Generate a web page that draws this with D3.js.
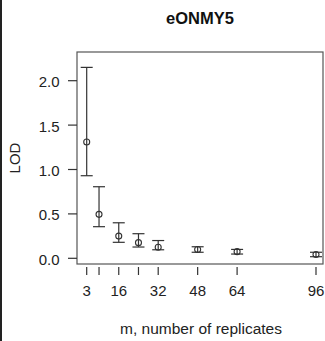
<!DOCTYPE html>
<html>
<head>
<meta charset="utf-8">
<script src="https://cdn.jsdelivr.net/npm/d3@7"></script>
<style>
  body { margin: 0; background: #fff; }
  svg { display: block; font-family: "Liberation Sans", Arial, sans-serif; }
</style>
</head>
<body>
<svg id="chart" width="325" height="341"></svg>
<script>
// replicates (m) and LOD estimates with interval bounds
const reps = [3, 8, 16, 24, 32, 48, 64, 96];
const lod = [1.31, 0.495, 0.25, 0.176, 0.125, 0.099, 0.075, 0.043];
const lodLow = [0.93, 0.356, 0.18, 0.127, 0.096, 0.068, 0.048, 0.018];
const lodHigh = [2.15, 0.806, 0.40, 0.277, 0.20, 0.13, 0.10, 0.068];
const xTicks = [3, 8, 16, 24, 32, 48, 64, 96];
const xLabels = [3, 16, 32, 48, 64, 96];
const yTicks = [0, 0.5, 1.0, 1.5, 2.0];

const svg = d3.select("#chart");
const box = { left: 77, top: 52, right: 323, bottom: 264 };

const x = d3.scaleLinear().domain([3, 96]).range([86.7, 316]);
const y = d3.scaleLinear().domain([0, 2]).range([258.3, 80.7]);

const ink = "#333";
const fs = 15;

// left frame line of the figure
svg.append("rect").attr("x", 0).attr("y", 0).attr("width", 2).attr("height", 341).attr("fill", "#222");

// title
svg.append("text")
  .attr("x", (box.left + box.right) / 2).attr("y", 24)
  .attr("text-anchor", "middle")
  .attr("font-size", 16.5).attr("font-weight", "bold")
  .attr("fill", "#111")
  .text("eONMY5");

// plot box
svg.append("rect")
  .attr("x", box.left).attr("y", box.top)
  .attr("width", box.right - box.left).attr("height", box.bottom - box.top)
  .attr("fill", "none").attr("stroke", "#555").attr("stroke-width", 1.2);

// y axis
const yAxis = svg.append("g");
yAxis.selectAll("line").data(yTicks).enter().append("line")
  .attr("x1", 68).attr("x2", box.left)
  .attr("y1", d => y(d)).attr("y2", d => y(d))
  .attr("stroke", ink).attr("stroke-width", 1.2);
yAxis.selectAll("text").data(yTicks).enter().append("text")
  .attr("x", 59.5).attr("y", d => y(d) + 6.5)
  .attr("text-anchor", "end").attr("font-size", fs).attr("fill", "#222")
  .text(d => d3.format(".1f")(d));

// x axis (ticks only, offset below the box)
const xAxis = svg.append("g");
xAxis.selectAll("line").data(xTicks).enter().append("line")
  .attr("x1", d => x(d)).attr("x2", d => x(d))
  .attr("y1", 267).attr("y2", 275)
  .attr("stroke", ink).attr("stroke-width", 1.2);
xAxis.selectAll("text").data(xLabels).enter().append("text")
  .attr("x", d => x(d)).attr("y", 295.5)
  .attr("text-anchor", "middle").attr("font-size", fs).attr("fill", "#222")
  .text(d => d);

// axis titles
svg.append("text")
  .attr("x", 201).attr("y", 334)
  .attr("text-anchor", "middle").attr("font-size", 15.5).attr("fill", "#222")
  .text("m, number of replicates");
svg.append("text")
  .attr("transform", `translate(19.5,${(box.top + box.bottom) / 2}) rotate(-90)`)
  .attr("text-anchor", "middle").attr("font-size", fs).attr("fill", "#222")
  .text("LOD");

// error bars
const pts = reps.map((m, i) => ({ m, v: lod[i], lo: lodLow[i], hi: lodHigh[i] }));
const cap = 6;
const bars = svg.append("g").selectAll("g").data(pts).enter().append("g");
bars.append("line")
  .attr("x1", d => x(d.m)).attr("x2", d => x(d.m))
  .attr("y1", d => y(d.lo)).attr("y2", d => y(d.hi))
  .attr("stroke", ink).attr("stroke-width", 1.2);
bars.append("line")
  .attr("x1", d => x(d.m) - cap).attr("x2", d => x(d.m) + cap)
  .attr("y1", d => y(d.hi)).attr("y2", d => y(d.hi))
  .attr("stroke", ink).attr("stroke-width", 1.2);
bars.append("line")
  .attr("x1", d => x(d.m) - cap).attr("x2", d => x(d.m) + cap)
  .attr("y1", d => y(d.lo)).attr("y2", d => y(d.lo))
  .attr("stroke", ink).attr("stroke-width", 1.2);
bars.append("circle")
  .attr("cx", d => x(d.m)).attr("cy", d => y(d.v)).attr("r", 3)
  .attr("fill", "none").attr("stroke", ink).attr("stroke-width", 1.1);
</script>
</body>
</html>
